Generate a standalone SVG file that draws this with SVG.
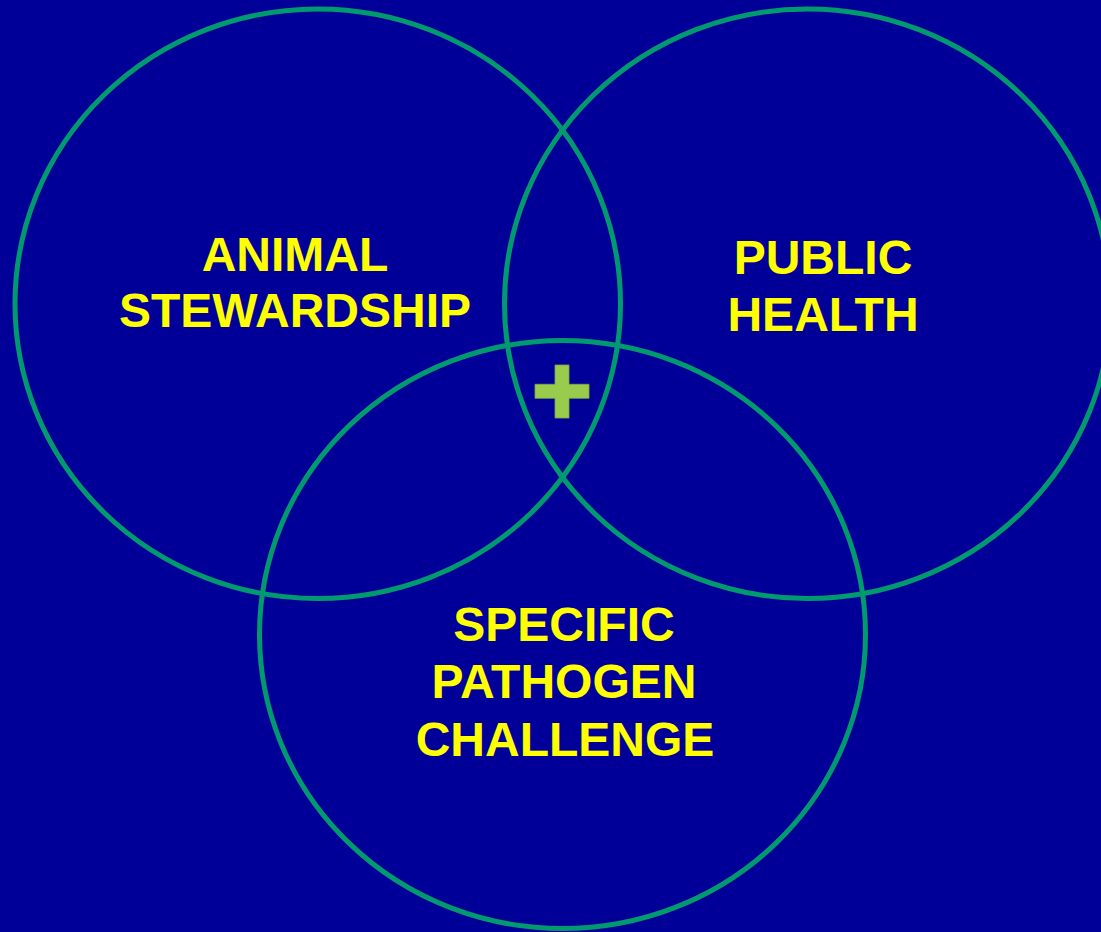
<svg xmlns="http://www.w3.org/2000/svg" width="1101" height="932" viewBox="0 0 1101 932">
<style>
.ring{fill:none;stroke:#009A6E;stroke-width:5}
.lbl{font-family:"Liberation Sans",Arial,sans-serif;font-weight:bold;font-size:48px;fill:#FFFF00;text-anchor:middle}
.plus{fill:#99CC4D;stroke:#7FA840;stroke-width:0.8}
</style>
<rect x="0" y="0" width="1101" height="932" fill="#000099"/>
<g id="animal-stewardship">
<ellipse class="ring" cx="317.75" cy="303.75" rx="302.75" ry="294.75"/>
<text class="lbl" x="295" y="271">ANIMAL</text>
<text class="lbl" x="295" y="327">STEWARDSHIP</text>
</g>
<g id="public-health">
<ellipse class="ring" cx="807.5" cy="303.75" rx="303" ry="294.75"/>
<text class="lbl" x="823" y="274">PUBLIC</text>
<text class="lbl" x="823" y="331">HEALTH</text>
</g>
<g id="specific-pathogen-challenge">
<ellipse class="ring" cx="562.5" cy="634.5" rx="303" ry="294"/>
<text class="lbl" x="564" y="641">SPECIFIC</text>
<text class="lbl" x="564" y="698">PATHOGEN</text>
<text class="lbl" x="565" y="756">CHALLENGE</text>
</g>
<g id="center-plus">
<path class="plus" d="M555,365 H569 V384.3 H589 V398.3 H569 V418 H555 V398.3 H535 V384.3 H555 Z"/>
</g>
<g id="connectors"></g>
</svg>
